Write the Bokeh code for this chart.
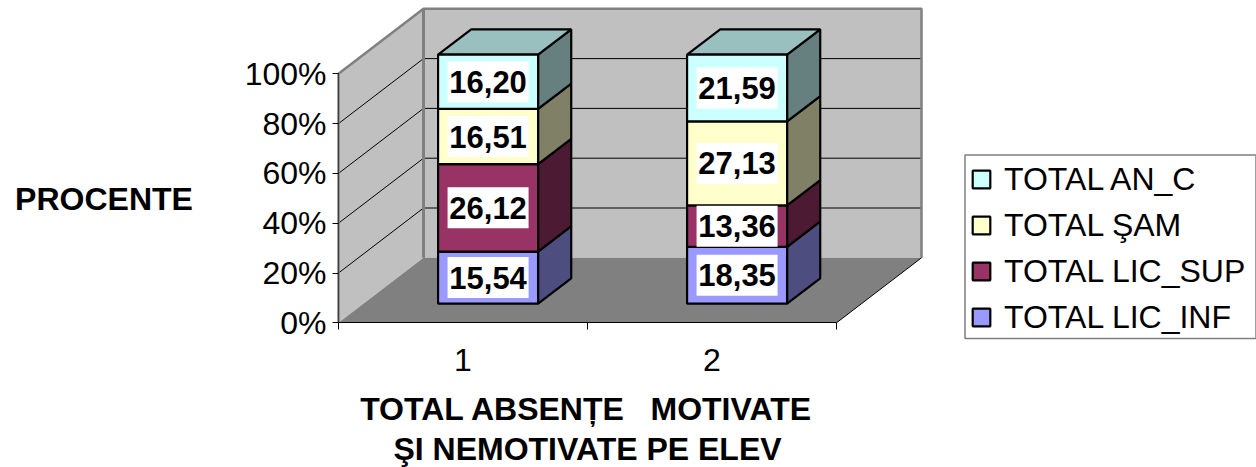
from bokeh.plotting import figure
from bokeh.models import Range1d, LinearAxis, FixedTicker, Legend, LegendItem, Label
from bokeh.core.properties import value
from bokeh.embed import file_html
from bokeh.resources import INLINE

categories = [1, 2]
category_labels = ["1", "2"]
series_names = ["TOTAL LIC_INF", "TOTAL LIC_SUP", "TOTAL ŞAM", "TOTAL AN_C"]
lic_inf = [15.54, 18.35]
lic_sup = [26.12, 13.36]
sam = [16.51, 27.13]
an_c = [16.20, 21.59]
value_labels = [["15,54", "18,35"], ["26,12", "13,36"], ["16,51", "27,13"], ["16,20", "21,59"]]
y_ticks = [0, 20, 40, 60, 80, 100]
y_tick_labels = ["0%", "20%", "40%", "60%", "80%", "100%"]
y_title = "PROCENTE"
x_title_lines = ["TOTAL ABSENȚE\u00a0\u00a0\u00a0MOTIVATE", "ŞI NEMOTIVATE PE ELEV"]

front_colors = ["#9999FF", "#993366", "#FFFFCC", "#CCFFFF"]
side_colors = ["#4D4D80", "#4D1A33", "#808066", "#668080"]
top_color = "#99BFBF"

FONT = "Liberation Sans"
W, H = 1256, 467
ORIGIN_X, ORIGIN_Y = 338.0, 322.3   # where the chart's front-left floor corner sits on the canvas
CAT_PX, PCT_PX = 249.0, 2.49
DEPTH_X = 85 / CAT_PX          # one full depth, in category units
DEPTH_Y = 65 / PCT_PX          # one full depth, in percent units
BAR_W = 100 / CAT_PX
D0, D1 = 0.295, 0.685
X0, X1 = 0.5, 2.5

def px(c, d):
    return c + d * DEPTH_X

def py(v, d):
    return v + d * DEPTH_Y

xs0 = X0 - ORIGIN_X / CAT_PX
ys0 = -(H - ORIGIN_Y) / PCT_PX
p = figure(width=W, height=H, output_backend="svg", toolbar_location=None,
           x_axis_type=None, y_axis_type=None,
           x_range=Range1d(xs0, xs0 + W / CAT_PX),
           y_range=Range1d(ys0, ys0 + H / PCT_PX),
           min_border=0)
p.outline_line_color = None
p.xgrid.visible = False
p.ygrid.visible = False
p.background_fill_color = "white"
p.border_fill_color = "white"

GRAY = "#808080"
WALL = "#C0C0C0"
# walls and floor
p.patch([px(X0, 0), px(X0, 1), px(X0, 1), px(X0, 0)],
        [py(0, 0), py(0, 1), py(100, 1), py(100, 0)], fill_color=WALL, line_color=None)
p.patch([px(X0, 1), px(X1, 1), px(X1, 1), px(X0, 1)],
        [py(0, 1), py(0, 1), py(100, 1), py(100, 1)], fill_color=WALL, line_color=None)
p.patch([px(X0, 0), px(X1, 0), px(X1, 1), px(X0, 1)],
        [py(0, 0), py(0, 0), py(0, 1), py(0, 1)], fill_color=GRAY, line_color=None)
# gridlines
for t in y_ticks[1:-1]:
    p.line([px(X0, 0), px(X0, 1), px(X1, 1)], [py(t, 0), py(t, 1), py(t, 1)],
           line_color="black", line_width=1)
# wall outlines
p.line([px(X0, 0), px(X0, 0), px(X0, 1), px(X1, 1), px(X1, 1)],
       [py(0, 0), py(100, 0), py(100, 1), py(100, 1), py(0, 1)], line_color=GRAY, line_width=2.5)
p.line([px(X0, 1), px(X0, 1)], [py(0, 1), py(100, 1)], line_color=GRAY, line_width=3)
p.line([px(X1, 0), px(X1, 1)], [py(0, 0), py(0, 1)], line_color="black", line_width=1)

# stacked 100% bars
stack = [lic_inf, lic_sup, sam, an_c]
totals = [sum(s[i] for s in stack) for i in range(len(categories))]
items = []
base = [0.0] * len(categories)
rows = []
BAR_LW = 2.2
for k, s in enumerate(stack):
    top = [base[i] + s[i] / totals[i] * 100 for i in range(len(categories))]
    left = [px(c - BAR_W / 2, D0) for c in categories]
    right = [px(c + BAR_W / 2, D0) for c in categories]
    rows.append((left, right, list(base), top))
    xs = [[r, px(c + BAR_W / 2, D1), px(c + BAR_W / 2, D1), r] for r, c in zip(right, categories)]
    ys = [[py(b, D0), py(b, D1), py(t, D1), py(t, D0)] for b, t in zip(base, top)]
    p.patches(xs, ys, fill_color=side_colors[k], line_color="black", line_width=BAR_LW)
    base = top

# top faces
tl, tr, _, tt = rows[-1]
xs = [[l, px(c - BAR_W / 2, D1), px(c + BAR_W / 2, D1), r] for l, r, c in zip(tl, tr, categories)]
ys = [[py(t, D0), py(t, D1), py(t, D1), py(t, D0)] for t in tt]
p.patches(xs, ys, fill_color=top_color, line_color="black", line_width=BAR_LW)

for k, (left, right, bottom, top) in enumerate(rows):
    r = p.quad(left=left, right=right,
               bottom=[py(b, D0) for b in bottom], top=[py(t, D0) for t in top],
               fill_color=front_colors[k], line_color="black", line_width=BAR_LW)
    items.append(LegendItem(label=series_names[k], renderers=[r]))

# value labels
for k, (left, right, bottom, top) in enumerate(rows):
    cx = [(a + b) / 2 for a, b in zip(left, right)]
    cy = [py((a + b) / 2, D0) for a, b in zip(bottom, top)]
    p.rect(cx, cy, width=81, height=41, width_units="screen", height_units="screen",
           fill_color="white", line_color=None)
    p.text(cx, cy, text=value_labels[k], text_font=value(FONT), text_font_style="bold",
           text_font_size="31px", text_align="center", text_baseline="middle", text_color="black")

# axes
yax = LinearAxis(ticker=FixedTicker(ticks=y_ticks), bounds=(0, 100), fixed_location=X0,
                 major_label_overrides=dict(zip(y_ticks, y_tick_labels)))
yax.major_label_text_font = FONT
yax.major_label_text_font_size = "32px"
yax.major_label_text_color = "black"
yax.major_label_standoff = 6
yax.major_tick_out = 6
yax.major_tick_in = 0
yax.minor_tick_out = 0
yax.minor_tick_in = 0
yax.major_tick_line_color = "black"
yax.axis_line_color = "#404040"
p.add_layout(yax, "left")

xax = LinearAxis(ticker=FixedTicker(ticks=categories, minor_ticks=[0.5, 1.5, 2.5]), bounds=(X0, X1),
                 fixed_location=0, major_label_overrides=dict(zip(categories, category_labels)))
xax.major_label_text_font = FONT
xax.major_label_text_font_size = "32px"
xax.major_label_text_color = "black"
xax.major_label_standoff = 19
xax.major_tick_out = 0
xax.major_tick_in = 0
xax.minor_tick_out = 7
xax.minor_tick_in = 0
xax.minor_tick_line_color = "black"
xax.axis_line_color = "black"
p.add_layout(xax, "below")

# legend frame, then the legend's rows on top of it
def cx_of(canvas_x):
    return xs0 + canvas_x / CAT_PX

def cy_of(canvas_y):
    return (ORIGIN_Y - canvas_y) / PCT_PX

p.quad(left=[cx_of(964.5)], right=[cx_of(1255.5)], top=[cy_of(154.5)], bottom=[cy_of(338)],
       fill_color="white", line_color=GRAY, line_width=1.5)
legend = Legend(items=items[::-1], click_policy="none", location=(970, H - 335.5),
                glyph_width=22, glyph_height=22, label_standoff=12,
                label_text_font=FONT, label_text_font_size="32px", label_text_color="black",
                label_height=25, label_width=220, spacing=9, padding=10, margin=0,
                border_line_color=None, background_fill_alpha=0.0)
p.add_layout(legend)

# titles
def title(text, x_px, y_px, align="center"):
    p.add_layout(Label(x=x_px, y=H - y_px, x_units="screen", y_units="screen", text=text,
                       text_font=FONT, text_font_style="bold", text_font_size="32px",
                       text_align=align, text_baseline="middle", text_color="black"))

title(y_title, 103.5, 198)
title(x_title_lines[0], 586, 408)
title(x_title_lines[1], 587, 448.5)

open("out.html", "w").write(file_html(p, INLINE))
